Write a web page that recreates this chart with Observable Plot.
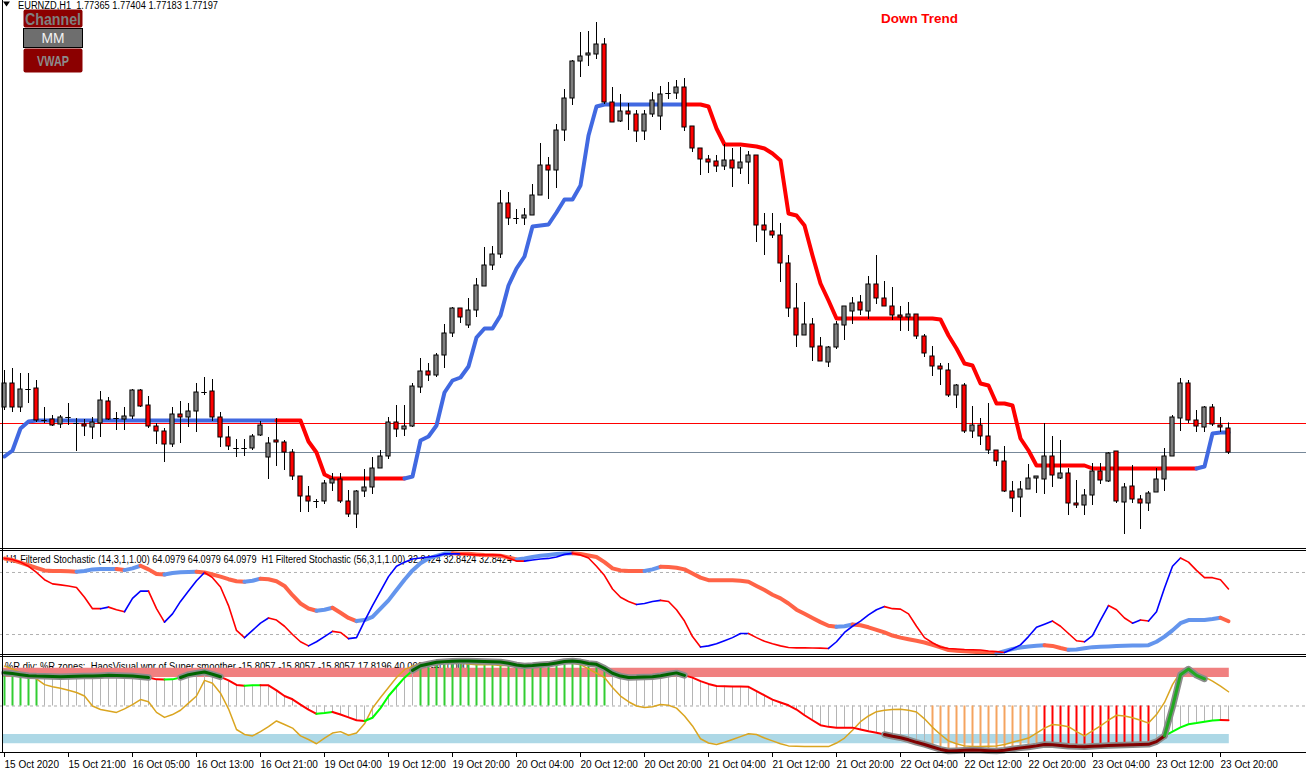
<!DOCTYPE html>
<html>
<head>
<meta charset="utf-8">
<title>EURNZD H1</title>
<script src="https://cdn.jsdelivr.net/npm/d3@7"></script>
<script src="https://cdn.jsdelivr.net/npm/@observablehq/plot@0.6"></script>
<style>
html,body{margin:0;padding:0;background:#fff;}
#chart{position:relative;width:1306px;height:773px;overflow:hidden;background:#fff;}
</style>
</head>
<body>
<div id="chart"></div>
<script>
// ================= DATA =================
const symbol = "EURNZD";
const timeframe = "H1";

const open = [1.77512,1.77680,1.77512,1.77638,1.77645,1.77421,1.77428,1.77393,1.77442,1.77400,
1.77393,1.77372,1.77400,1.77554,1.77435,1.77428,1.77449,1.77631,1.77526,1.77379,
1.77344,1.77253,1.77463,1.77442,1.77484,1.77617,1.77624,1.77442,1.77302,1.77225,
1.77225,1.77225,1.77316,1.77162,1.77281,1.77267,1.77197,1.77029,1.76889,1.76854,
1.76854,1.76980,1.77008,1.76854,1.76763,1.76924,1.76952,1.77085,1.77169,1.77407,
1.77358,1.77379,1.77652,1.77764,1.77736,1.77876,1.78030,1.78205,1.78086,1.78191,
1.78359,1.78506,1.78583,1.78940,1.78835,1.78835,1.78856,1.78996,1.79206,1.79171,
1.79451,1.79675,1.79934,1.79976,1.79983,1.80053,1.79647,1.79514,1.79584,1.79563,
1.79444,1.79563,1.79549,1.79710,1.79710,1.79752,1.79479,1.79325,1.79248,1.79234,
1.79199,1.79241,1.79185,1.79227,1.79276,1.78786,1.78744,1.78716,1.78520,1.78205,
1.78016,1.78093,1.77939,1.77827,1.77932,1.78086,1.78184,1.78247,1.78184,1.78373,
1.78275,1.78219,1.78156,1.78142,1.78163,1.78009,1.77869,1.77799,1.77771,1.77596,
1.77666,1.77344,1.77386,1.77309,1.77211,1.77134,1.76924,1.76882,1.76938,1.77015,
1.77008,1.77169,1.77015,1.77050,1.76840,1.76826,1.76896,1.77064,1.76994,1.77204,
1.76847,1.76959,1.76868,1.76840,1.76917,1.77008,1.77169,1.77435,1.77680,1.77421,
1.77372,1.77512,1.77386,1.77365];

const high = [1.77771,1.77785,1.77750,1.77750,1.77701,1.77512,1.77456,1.77456,1.77540,1.77435,
1.77428,1.77442,1.77624,1.77582,1.77477,1.77512,1.77638,1.77638,1.77589,1.77400,
1.77365,1.77512,1.77554,1.77540,1.77680,1.77722,1.77708,1.77477,1.77379,1.77288,
1.77288,1.77323,1.77414,1.77302,1.77435,1.77281,1.77218,1.77029,1.76959,1.76868,
1.77001,1.77050,1.77050,1.76931,1.76931,1.77078,1.77162,1.77211,1.77442,1.77526,
1.77526,1.77680,1.77855,1.77820,1.77890,1.78093,1.78212,1.78205,1.78275,1.78415,
1.78632,1.78639,1.79031,1.79017,1.78898,1.78905,1.79073,1.79360,1.79262,1.79493,
1.79738,1.79941,1.80137,1.80144,1.80207,1.80095,1.79752,1.79703,1.79640,1.79591,
1.79591,1.79717,1.79759,1.79787,1.79801,1.79815,1.79479,1.79325,1.79276,1.79276,
1.79353,1.79325,1.79332,1.79304,1.79276,1.78870,1.78870,1.78800,1.78576,1.78380,
1.78247,1.78135,1.78002,1.77939,1.78114,1.78219,1.78282,1.78296,1.78429,1.78576,
1.78394,1.78352,1.78219,1.78247,1.78163,1.78023,1.77939,1.77820,1.77820,1.77673,
1.77680,1.77519,1.77435,1.77540,1.77211,1.77239,1.76994,1.76994,1.77113,1.77029,
1.77400,1.77309,1.77281,1.77085,1.77001,1.76938,1.77120,1.77120,1.77197,1.77204,
1.76980,1.77106,1.76896,1.76924,1.77085,1.77225,1.77456,1.77715,1.77701,1.77491,
1.77519,1.77533,1.77442,1.77404];

const low = [1.77491,1.77477,1.77477,1.77540,1.77407,1.77400,1.77379,1.77365,1.77386,1.77204,
1.77309,1.77288,1.77302,1.77421,1.77351,1.77351,1.77428,1.77512,1.77365,1.77253,
1.77127,1.77232,1.77260,1.77372,1.77337,1.77596,1.77414,1.77232,1.77211,1.77162,
1.77169,1.77211,1.77309,1.77008,1.77099,1.77071,1.77001,1.76777,1.76777,1.76805,
1.76833,1.76924,1.76840,1.76742,1.76665,1.76882,1.76903,1.77085,1.77148,1.77302,
1.77309,1.77372,1.77610,1.77694,1.77722,1.77785,1.78002,1.78100,1.78065,1.78142,
1.78359,1.78471,1.78555,1.78786,1.78793,1.78786,1.78856,1.78996,1.78968,1.79045,
1.79374,1.79626,1.79822,1.79899,1.79948,1.79633,1.79507,1.79507,1.79451,1.79367,
1.79381,1.79542,1.79451,1.79668,1.79668,1.79444,1.79297,1.79136,1.79150,1.79157,
1.79171,1.79052,1.79143,1.79073,1.78667,1.78576,1.78695,1.78387,1.78142,1.77932,
1.78016,1.77834,1.77834,1.77792,1.77918,1.77981,1.78093,1.78156,1.78128,1.78233,
1.78219,1.78121,1.78044,1.78044,1.77988,1.77862,1.77729,1.77666,1.77582,1.77505,
1.77330,1.77295,1.77246,1.77183,1.77099,1.76917,1.76777,1.76742,1.76938,1.76910,
1.76903,1.76952,1.77008,1.76756,1.76805,1.76756,1.76826,1.76973,1.76987,1.76840,
1.76623,1.76840,1.76658,1.76784,1.76917,1.76924,1.77169,1.77344,1.77400,1.77337,
1.77337,1.77379,1.77337,1.77183];

const close = [1.77680,1.77512,1.77638,1.77638,1.77421,1.77421,1.77386,1.77442,1.77442,1.77400,
1.77379,1.77407,1.77561,1.77428,1.77435,1.77449,1.77631,1.77519,1.77379,1.77344,
1.77253,1.77463,1.77442,1.77484,1.77617,1.77617,1.77442,1.77302,1.77239,1.77225,
1.77225,1.77309,1.77386,1.77260,1.77267,1.77197,1.77029,1.76889,1.76854,1.76854,
1.76980,1.77008,1.76854,1.76763,1.76924,1.76952,1.77085,1.77169,1.77407,1.77358,
1.77379,1.77659,1.77764,1.77736,1.77876,1.78030,1.78205,1.78142,1.78191,1.78366,
1.78506,1.78583,1.78940,1.78835,1.78835,1.78856,1.78996,1.79206,1.79171,1.79451,
1.79675,1.79934,1.79969,1.79990,1.80053,1.79647,1.79507,1.79584,1.79563,1.79444,
1.79563,1.79661,1.79703,1.79710,1.79752,1.79472,1.79325,1.79248,1.79227,1.79199,
1.79241,1.79185,1.79227,1.79276,1.78786,1.78751,1.78716,1.78520,1.78205,1.78016,
1.78093,1.77932,1.77834,1.77932,1.78093,1.78219,1.78240,1.78191,1.78373,1.78275,
1.78219,1.78156,1.78142,1.78163,1.78009,1.77890,1.77799,1.77778,1.77596,1.77666,
1.77344,1.77386,1.77309,1.77211,1.77134,1.76924,1.76875,1.76938,1.77015,1.77029,
1.77169,1.77036,1.77050,1.76840,1.76826,1.76896,1.77064,1.77001,1.77190,1.76854,
1.76952,1.76868,1.76840,1.76910,1.77008,1.77169,1.77442,1.77680,1.77421,1.77379,
1.77512,1.77393,1.77372,1.77197];

// price channel line (blue = up trend, red = down trend)
const channelLine = [1.77169,1.77211,1.77365,1.77414,1.77421,1.77421,1.77421,1.77421,1.77421,1.77421,
1.77421,1.77421,1.77421,1.77421,1.77421,1.77421,1.77421,1.77421,1.77421,1.77421,
1.77421,1.77421,1.77421,1.77421,1.77421,1.77421,1.77421,1.77421,1.77421,1.77421,
1.77421,1.77421,1.77421,1.77421,1.77421,1.77421,1.77421,1.77421,1.77274,1.77197,
1.77043,1.77015,1.77015,1.77015,1.77015,1.77015,1.77015,1.77015,1.77015,1.77015,
1.77015,1.77029,1.77281,1.77309,1.77386,1.77617,1.77701,1.77722,1.77799,1.78002,
1.78065,1.78065,1.78156,1.78366,1.78485,1.78569,1.78779,1.78786,1.78793,1.78877,
1.78968,1.78968,1.79066,1.79416,1.79619,1.79633,1.79633,1.79633,1.79633,1.79633,
1.79633,1.79633,1.79633,1.79633,1.79633,1.79633,1.79633,1.79633,1.79619,1.79465,
1.79353,1.79353,1.79353,1.79346,1.79339,1.79325,1.79290,1.79241,1.78870,1.78856,
1.78786,1.78576,1.78380,1.78261,1.78135,1.78135,1.78135,1.78135,1.78135,1.78135,
1.78135,1.78135,1.78135,1.78135,1.78135,1.78135,1.78135,1.78128,1.78016,1.77925,
1.77820,1.77806,1.77680,1.77666,1.77540,1.77540,1.77526,1.77295,1.77211,1.77106,
1.77106,1.77106,1.77106,1.77106,1.77106,1.77106,1.77085,1.77085,1.77085,1.77085,
1.77085,1.77085,1.77085,1.77085,1.77085,1.77085,1.77085,1.77085,1.77085,1.77085,
1.77099,1.77330,1.77337,1.77337];
const upTrendBars = [[0, 34], [51, 85], [150, 153]];

const askPrice = 1.77400;
const bidPrice = 1.77197;

// Filtered Stochastic (14,3) and (56,3)
const stochFast = [93.6,92.5,90,86,80,73,69,68,67,65.5,
56,45,45,46.5,44,42,55,62,62,45,
32,40,52,62,72,80,75,66,48,24,
17,24,31,36,34,28,20,13,9,13,
18,23,22,16,17,33,48,62,76,86,
90,93,94,95,96,98,98,98,97.5,97,
97,97,96.8,94,91,91,92,93,93.6,95,
97.5,98.5,97,94,86,77,64,56,52,49,
50,52,53,52,44,33,18,8,9,11,
14,17,21,21,17,13.5,11,9,7.5,7.1,
7.1,7,6.8,6.5,13,22,28,33,39,44,
47,45,44.6,40,28,17,12,8,6.5,6,
5.5,5.2,5,4,3.5,2.6,6,10,18,27,
30,33,28,21,14,13,19,34,48,44,
36,31,34,33,42,65,86,94,90,82,
75,75,73,64.1];
const stochSlow = [93.6,92,89.5,87,84.5,82,81.4,81.4,81.2,80.8,
81.5,83,83.3,83.3,83.3,82.3,84,86.5,83,78.5,
78,79.5,80.3,80.5,80.7,80,78,76,73.5,71.5,
71,72,74,73.5,71.5,67,58,50,45.2,43,
44,45.9,41,36,33,34,37,45,53,63,
73,82,89,93.6,96,98.3,98.5,98.2,98,97.5,
97,96.7,96.2,94.5,92.5,93.5,95,96.2,97,97.8,
98.3,98.5,97.8,96.5,95,90,84,82,81.5,81.4,
81.4,83,85.5,85.3,84.5,83,79,75,72.6,72.6,
72.6,72.6,72,71,67,63,58.5,55,50,44,
40,36,32,28.5,27.5,28,29.7,29,27,24.5,
22,19,17,15.5,14,12.3,10,7.5,5,4.3,
3.8,3.3,2.8,2.2,1.8,4,6,7.5,8.5,9.2,
9.7,9,7,5.2,5.5,6.8,7.8,8.1,8.5,9,
9.1,9.3,9.5,9.7,13,18,24,31,34,34,
34,35,36.2,32.8];
const stochLevels = [20, 80];

// %R zones (HaosVisual wpr of Super smoother)
const wprMain = [46.8,45.5,44,42.5,42,41.8,41.5,41.2,41.3,41.6,
42,42.1,42.6,43,42.7,42.3,42.1,41,40,37.4,
37.2,37.4,40,44,46,47.7,44.5,41,36,29.5,
28.5,29,29.2,29,22,14,9.4,2,-5,-11,
-10,-8.5,-12,-16,-20,-21,-16.5,-3,14,27,
39.8,50,56.5,59,61.3,62.3,62.8,63.2,63.2,62.8,
62.5,62.2,61.8,60,57.5,56.2,56.8,57.8,58.5,60.5,
62.5,63.2,62,59.8,58.5,53,46,42,40,40.2,
40.7,41.2,42.5,44.5,46.5,43,39.8,35,31,28.1,
27.8,27.5,27.3,27,21,15,9,5,1,-5,
-13,-20,-27,-29.3,-30.4,-30.4,-30.4,-33,-35.5,-37.5,
-40,-42.5,-44.5,-47.5,-51,-54,-57.5,-61,-63.2,-62.8,
-62.2,-61.8,-62.3,-62.8,-63.2,-62,-60.5,-58.8,-57.5,-56,
-54,-54.5,-55.5,-56.5,-57,-57.1,-56.5,-56,-55.5,-55.2,
-54.8,-54.5,-54.2,-53.8,-50,-42,-36,-30,-25.7,-24,
-22,-20.5,-19.5,-20];
const wprSignal = [56,52,47,44,38,30,27,25,22,19,
14,0,-5,-7,-9,-4,2,9,6,-9,
-16,-12,-6,4,14,36,32,18,-4,-33,
-40,-42,-36,-29,-21,-26,-31,-42,-47,-53,
-45,-38,-36,-41,-38,-25,-3,12,26,40,
51,56,60,61,61,61,60,60,59,58,
58,58,57,57,55,56,58,59,60,61,
61,60,58,52,46,40,26,14,6,0,
-2,-1,2,1,-3,-14,-28,-46,-52,-54,
-51,-47,-43,-39,-40,-45,-49,-53,-56,-56.5,
-57,-57,-57,-57,-52,-45,-34,-22,-14,-8,
-6,-5,-4.7,-6,-8.5,-18,-30,-40,-49,-53,
-56,-57,-57,-56.5,-56,-54,-51,-48,-45,-38,
-31,-26,-27,-29,-36,-42,-35,-28,-20,-13,
-14,-16.4,-20,-24,-12,5,30,48,49,45,
41,35,28,20];
const wprSpikeBars = [145, 146, 147, 148, 149, 150];
const wprSpikeVals = [-42, -2, 44, 52, 43, 38];
const wprLevels = [40, -40];
const wprZoneEdge = 53;
const histUpBars = [[0, 4], [52, 75]];
const histDeepBars = [[116, 129]];
const histDownBars = [[130, 143]];

const tickBars = [0, 8, 16, 24, 32, 40, 48, 56, 64, 72, 80, 88, 96, 104, 112, 120, 128, 136, 144, 152];
const tickLabels = ["15 Oct 2020","15 Oct 21:00","16 Oct 05:00","16 Oct 13:00","16 Oct 21:00","19 Oct 04:00",
"19 Oct 12:00","19 Oct 20:00","20 Oct 04:00","20 Oct 12:00","20 Oct 20:00","21 Oct 04:00","21 Oct 12:00",
"21 Oct 20:00","22 Oct 04:00","22 Oct 12:00","22 Oct 20:00","23 Oct 04:00","23 Oct 12:00","23 Oct 20:00"];

const stochHeader = "H1 Filtered Stochastic (14,3,1,1.00) 64.0979 64.0979 64.0979  H1 Filtered Stochastic (56,3,1,1.00) 32.8424 32.8424 32.8424";
const wprHeader = "%R div: %R zones:  HaosVisual wpr of Super smoother -15.8057 -15.8057 -15.8057 17.8196 40.0000 -40.0000";
const trendText = "Down Trend";
const buttons = ["Channel", "MM", "VWAP"];

// ================= RENDER =================
const FONT = "'Liberation Sans', Arial, Helvetica, sans-serif";
const W = 1306;
const N = open.length;
const xDomain = [-0.5, 162.75];
const chart = document.getElementById("chart");
const inRanges = (i, rr) => rr.some(([a, b]) => i >= a && i <= b);

function place(node, top) {
  const d = document.createElement("div");
  d.style.position = "absolute"; d.style.left = "0px"; d.style.top = top + "px";
  d.appendChild(node); chart.appendChild(d);
}
function runsBy(vals, colorAt) {
  const out = []; let seg = -1, prev = null;
  for (let i = 1; i < vals.length; i++) {
    const c = colorAt(i);
    if (c !== prev) { seg++; out.push({i: i - 1, v: vals[i - 1], seg, c}); prev = c; }
    out.push({i, v: vals[i], seg, c});
  }
  return out;
}
function slopeRuns(vals, up, dn) {
  const cols = []; let dir = up;
  for (let i = 0; i < vals.length; i++) {
    if (i > 0) { if (vals[i] > vals[i - 1]) dir = up; else if (vals[i] < vals[i - 1]) dir = dn; }
    cols.push(dir);
  }
  return runsBy(vals, i => cols[i]);
}

// ---- background layer (labels under the plotted marks) ----
const bg = d3.create("svg").attr("width", W).attr("height", 773)
  .style("position", "absolute").style("left", "0px").style("top", "0px")
  .attr("font-family", FONT);
function addText(x, y, str, o = {}) {
  const t = bg.append("text").attr("x", x).attr("y", y).text(str)
    .attr("font-size", o.size || 10).attr("fill", o.fill || "#000")
    .attr("font-weight", o.weight || "normal").style("white-space", "pre");
  if (o.anchor) t.attr("text-anchor", o.anchor);
  if (o.len) t.attr("textLength", o.len).attr("lengthAdjust", "spacingAndGlyphs");
  return t;
}
bg.append("path").attr("d", "M3,1.5 L10,1.5 L6.5,6.5 Z").attr("fill", "#000");
addText(18, 8.5, `${symbol},${timeframe}  ${open[N-1].toFixed(5)} ${high[N-1].toFixed(5)} ${low[N-1].toFixed(5)} ${close[N-1].toFixed(5)}`, {len: 200});
// buttons
bg.append("rect").attr("x", 23.5).attr("y", 9.5).attr("width", 59).attr("height", 18).attr("rx", 2).attr("fill", "#8b0000");
addText(53, 24.5, buttons[0], {size: 17, weight: "bold", fill: "#7f7f7f", anchor: "middle", len: 56});
bg.append("rect").attr("x", 23.5).attr("y", 28.5).attr("width", 59).attr("height", 19).attr("fill", "#6e6e6e").attr("stroke", "#000");
addText(53, 43, buttons[1], {size: 14, fill: "#f2f2f2", anchor: "middle", len: 23});
bg.append("rect").attr("x", 23.5).attr("y", 48.5).attr("width", 59).attr("height", 24).attr("rx", 2).attr("fill", "#8b0000");
addText(53, 66, buttons[2], {size: 14, weight: "bold", fill: "#8c8c8c", anchor: "middle", len: 32});
addText(881, 22.5, trendText, {size: 13, weight: "bold", fill: "#ff0000", len: 77});
addText(6, 563, stochHeader, {len: 506});
addText(5, 669.5, wprHeader, {len: 463});
chart.appendChild(bg.node());

const baseStyle = {background: "transparent", overflow: "visible", fontFamily: FONT, fontSize: "10px", color: "#000"};

// ---- main price panel ----
const bars = d3.range(N).map(i => ({i, o: open[i], h: high[i], l: low[i], c: close[i]}));
const chRuns = runsBy(channelLine, i => inRanges(i, upTrendBars) ? "#4169e1" : "#ff0000");
const mainPlot = Plot.plot({
  width: W, height: 548, margin: 0,
  x: {domain: xDomain, axis: null},
  y: {domain: [1.76525, 1.80361], axis: null},
  color: {type: "identity"},
  style: baseStyle,
  marks: [
    Plot.ruleY([askPrice], {stroke: "#ff0000", strokeWidth: 1}),
    Plot.ruleY([bidPrice], {stroke: "#778899", strokeWidth: 1}),
    Plot.line(chRuns, {x: "i", y: "v", z: "seg", stroke: "c", strokeWidth: 4, strokeLinejoin: "round", strokeLinecap: "round"}),
    Plot.ruleX(bars, {x: "i", y1: "l", y2: "h", stroke: "#000", strokeWidth: 1}),
    Plot.rect(bars.filter(d => d.o !== d.c), {
      x1: d => d.i - 0.26, x2: d => d.i + 0.26, y1: "o", y2: "c",
      fill: d => d.c > d.o ? "#808080" : "#ff0000", stroke: "#000", strokeWidth: 1
    }),
    Plot.ruleY(bars.filter(d => d.o === d.c), {y: "o", x1: d => d.i - 0.34, x2: d => d.i + 0.34, stroke: "#000", strokeWidth: 1})
  ]
});
place(mainPlot, 0);

// ---- stochastic panel ----
const slowRuns = slopeRuns(stochSlow, "#6495ed", "#ff6347");
const fastRuns = slopeRuns(stochFast, "#0000ff", "#ff0000");
const stochPlot = Plot.plot({
  width: W, height: 108, marginTop: 3.3, marginBottom: 1.3, marginLeft: 0, marginRight: 0,
  x: {domain: xDomain, axis: null},
  y: {domain: [0, 100], axis: null},
  color: {type: "identity"},
  style: baseStyle,
  marks: [
    Plot.ruleY(stochLevels, {stroke: "#b0b0b0", strokeWidth: 1, strokeDasharray: "3,3"}),
    Plot.line(slowRuns, {x: "i", y: "v", z: "seg", stroke: "c", strokeWidth: 4, strokeLinejoin: "round", strokeLinecap: "round"}),
    Plot.line(fastRuns, {x: "i", y: "v", z: "seg", stroke: "c", strokeWidth: 1.6, strokeLinejoin: "round"})
  ]
});
place(stochPlot, 548);

// ---- %R panel ----
const zoneBands = [{lo: wprLevels[0], hi: wprZoneEdge}, {lo: -wprZoneEdge, hi: wprLevels[1]}];
const hist = d3.range(N).map(i => ({
  i, v: wprMain[i],
  c: inRanges(i, histUpBars) ? "#32cd32" : inRanges(i, histDeepBars) ? "#f4a460" : inRanges(i, histDownBars) ? "#ff0000" : null
}));
const zoneData = d3.range(N).map(i => ({
  i,
  top: wprMain[i] >= wprLevels[0] ? wprMain[i] : NaN,
  bot: wprMain[i] <= wprLevels[1] ? wprMain[i] : NaN
}));
const spikeData = wprSpikeBars.map((b, k) => ({i: b, v: wprSpikeVals[k]}));
const mainRuns = slopeRuns(wprMain, "#00ff00", "#ff0000");
const signalData = d3.range(N).map(i => ({i, v: wprSignal[i]}));
const labelOf = new Map(tickBars.map((b, k) => [b, tickLabels[k]]));

const wprMarks = [
  Plot.rect(zoneBands, {x1: () => -0.2, x2: () => 153.1, y1: "lo", y2: "hi", fill: d => d.lo > 0 ? "#f08080" : "#add8e6"}),
  Plot.ruleY([0], {stroke: "#a8a8a8", strokeWidth: 1, strokeDasharray: "3,3"}),
  Plot.ruleX(hist.filter(d => !d.c), {x: "i", y1: () => 0, y2: "v", stroke: "#b4b4b4", strokeWidth: 1}),
  Plot.ruleX(hist.filter(d => d.c), {x: "i", y1: () => 0, y2: "v", stroke: "c", strokeWidth: 2}),
  Plot.line(signalData, {x: "i", y: "v", stroke: "#daa520", strokeWidth: 1.5, strokeLinejoin: "round"}),
  Plot.line(mainRuns, {x: "i", y: "v", z: "seg", stroke: "c", strokeWidth: 2, strokeLinejoin: "round"}),
  Plot.line(zoneData, {x: "i", y: "top", stroke: "#8c8c8c", strokeWidth: 6.5, strokeLinejoin: "round", strokeLinecap: "round"}),
  Plot.line(zoneData, {x: "i", y: "bot", stroke: "#8c8c8c", strokeWidth: 6.5, strokeLinejoin: "round", strokeLinecap: "round"}),
  Plot.line(spikeData, {x: "i", y: "v", stroke: "#8c8c8c", strokeWidth: 6.5, strokeLinejoin: "round", strokeLinecap: "round"}),
  Plot.line(zoneData, {x: "i", y: "top", stroke: "#006400", strokeWidth: 3, strokeLinejoin: "round"}),
  Plot.line(zoneData, {x: "i", y: "bot", stroke: "#800000", strokeWidth: 3, strokeLinejoin: "round"}),
  Plot.line(spikeData, {x: "i", y: "v", stroke: "#22a822", strokeWidth: 3, strokeLinejoin: "round"})
];
if (Plot.axisX) {
  wprMarks.push(Plot.axisX(tickBars, {anchor: "bottom", label: null, tickSize: 5, tickPadding: 3, tickFormat: d => labelOf.get(d), textAnchor: "start", fontSize: 10}));
}
const wprPlot = Plot.plot({
  width: W, height: 118, marginTop: 0, marginBottom: 21, marginLeft: 0, marginRight: 0,
  x: Plot.axisX ? {domain: xDomain, axis: null, label: null} : {domain: xDomain, ticks: tickBars, tickFormat: d => labelOf.get(d), tickSize: 5, label: null},
  y: {domain: [-65.3, 70.9], axis: null},
  color: {type: "identity"},
  style: baseStyle,
  marks: wprMarks
});
place(wprPlot, 655);

// ---- frame lines on top ----
const fg = d3.create("svg").attr("width", W).attr("height", 773)
  .style("position", "absolute").style("left", "0px").style("top", "0px").style("pointer-events", "none");
[548.5, 550.5, 654.5, 656.5, 752.5].forEach(y =>
  fg.append("line").attr("x1", 0).attr("x2", W).attr("y1", y).attr("y2", y).attr("stroke", "#000").attr("stroke-width", 1));
fg.append("line").attr("x1", 2.5).attr("x2", 2.5).attr("y1", 0).attr("y2", 752.5).attr("stroke", "#000").attr("stroke-width", 1);
chart.appendChild(fg.node());
</script>
</body>
</html>
